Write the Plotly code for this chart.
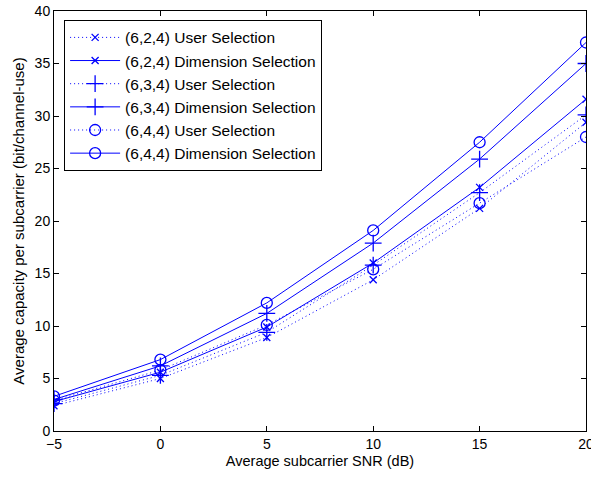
import plotly.graph_objects as go

snr = [-5, 0, 5, 10, 15, 20]

us_624 = [2.4, 5.0, 8.9, 14.4, 21.2, 29.4]
ds_624 = [2.8, 5.6, 9.9, 16.0, 23.2, 31.6]
us_634 = [2.6, 5.3, 9.4, 15.8, 22.7, 30.1]
ds_634 = [3.0, 6.2, 11.2, 17.9, 25.9, 35.0]
us_644 = [2.9, 5.8, 10.1, 15.4, 21.7, 28.0]
ds_644 = [3.3, 6.8, 12.2, 19.1, 27.5, 37.0]

names = ["(6,2,4) User Selection", "(6,2,4) Dimension Selection",
         "(6,3,4) User Selection", "(6,3,4) Dimension Selection",
         "(6,4,4) User Selection", "(6,4,4) Dimension Selection"]
series = [us_624, ds_624, us_634, ds_634, us_644, ds_644]
symbols = ["x-thin-open", "x-thin-open", "cross-thin-open", "cross-thin-open",
           "circle-open", "circle-open"]
sizes = [7, 7, 12, 12, 11, 11]
dashes = ["1px,3px", "solid", "1px,3px", "solid", "1px,3px", "solid"]

blue = "rgb(0,0,255)"
font_family = "Liberation Sans, Arial, sans-serif"
fig = go.Figure()
for nm, ys, sym, sz, d in zip(names, series, symbols, sizes, dashes):
    fig.add_trace(go.Scatter(
        x=snr, y=ys, name=nm, mode="lines+markers",
        line=dict(color=blue, width=1, dash=d),
        marker=dict(symbol=sym, size=sz, color=blue,
                    line=dict(color=blue, width=1.3)),
    ))

axis_common = dict(
    showline=True, linecolor="black", linewidth=1, mirror="ticks",
    ticks="inside", ticklen=5, tickcolor="black", showgrid=False,
    zeroline=False, ticklabeloverflow="allow", automargin=False,
    tickfont=dict(family=font_family, size=14, color="black"),
)
fig.update_xaxes(range=[-5, 20], tickvals=[-5, 0, 5, 10, 15, 20],
                 title=dict(text="Average subcarrier SNR (dB)",
                            font=dict(family=font_family, size=14.5, color="black"),
                            standoff=5),
                 **axis_common)
fig.update_yaxes(range=[0, 40], tickvals=[0, 5, 10, 15, 20, 25, 30, 35, 40],
                 title=dict(text="Average capacity per subcarrier (bit/channel-use)",
                            font=dict(family=font_family, size=15, color="black"),
                            standoff=6),
                 **axis_common)
fig.update_layout(
    width=591, height=479,
    margin=dict(l=54, r=5, t=11, b=48, autoexpand=False),
    paper_bgcolor="white", plot_bgcolor="white",
    showlegend=True,
    legend=dict(x=0.019, y=0.979, xanchor="left", yanchor="top",
                bgcolor="white", bordercolor="black", borderwidth=1,
                font=dict(family=font_family, size=15.5, color="black"),
                tracegroupgap=0, itemwidth=50),
)
fig.write_html("out.html")
